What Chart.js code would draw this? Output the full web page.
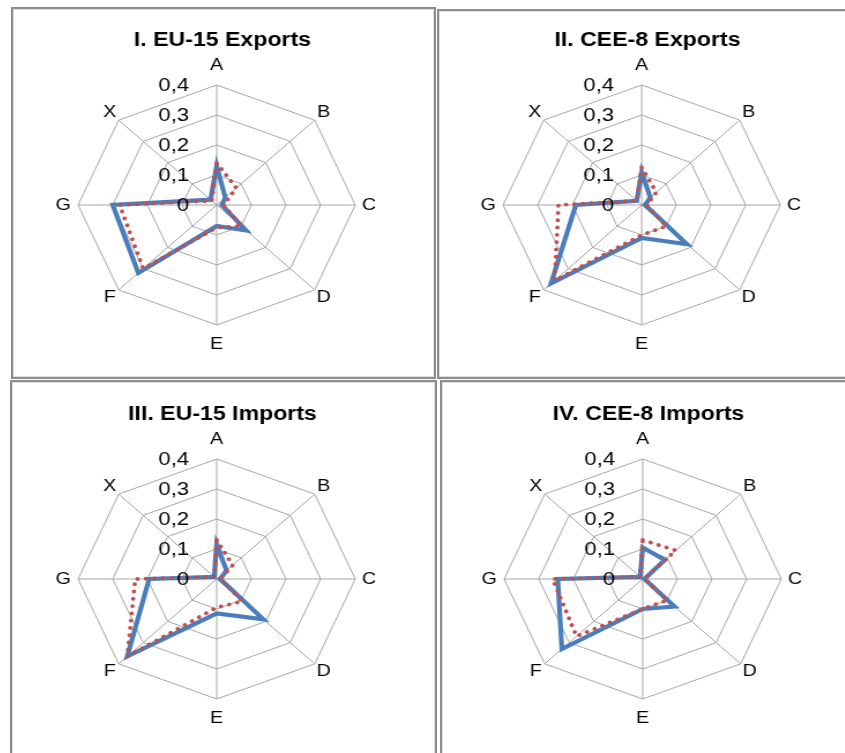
<!DOCTYPE html>
<html>
<head>
<meta charset="utf-8">
<script src="https://cdn.jsdelivr.net/npm/chart.js@4/dist/chart.umd.min.js"></script>
<style>
  html, body { margin: 0; padding: 0; background: #fff; }
  body { width: 845px; height: 753px; overflow: hidden; position: relative; }
  .panel { position: absolute; box-sizing: border-box; border: 2px solid #8c8c8c; box-shadow: inset 0 0 0 1px #dedede; }
  .wrap { position: absolute; transform-origin: 0 0; transform: scaleX(1.155); }
  canvas { display: block; }
</style>
</head>
<body>
<div class="panel" style="left:11px;top:7px;width:425px;height:372px"></div>
<div class="panel" style="left:437px;top:9px;width:420px;height:370px"></div>
<div class="panel" style="left:10px;top:380px;width:427px;height:400px"></div>
<div class="panel" style="left:440px;top:380px;width:420px;height:400px"></div>

<div class="wrap" style="left:3px;top:0px"><canvas id="c1" width="370" height="380"></canvas></div>
<div class="wrap" style="left:428px;top:0px"><canvas id="c2" width="370" height="380"></canvas></div>
<div class="wrap" style="left:3px;top:374px"><canvas id="c3" width="370" height="379"></canvas></div>
<div class="wrap" style="left:429px;top:374px"><canvas id="c4" width="370" height="379"></canvas></div>

<script>
// Sectors on the radar axes
const axisLabels = ['A', 'B', 'C', 'D', 'E', 'F', 'G', 'X'];
const tickValues = [0, 0.1, 0.2, 0.3, 0.4];
const tickLabels = ['0', '0,1', '0,2', '0,3', '0,4'];

const titles = ['I. EU-15 Exports', 'II. CEE-8 Exports', 'III. EU-15 Imports', 'IV. CEE-8 Imports'];

// Shares by sector: solid series and dotted series
const eu15ExportsSolid  = [0.13,  0.035, 0.015, 0.12,  0.07,  0.32,  0.30,  0.025];
const eu15ExportsDotted = [0.14,  0.08,  0.02,  0.10,  0.075, 0.30,  0.28,  0.02];
const cee8ExportsSolid  = [0.11,  0.035, 0.01,  0.185, 0.11,  0.37,  0.19,  0.02];
const cee8ExportsDotted = [0.125, 0.06,  0.015, 0.10,  0.10,  0.355, 0.24,  0.02];
const eu15ImportsSolid  = [0.115, 0.04,  0.01,  0.19,  0.115, 0.365, 0.195, 0.01];
const eu15ImportsDotted = [0.13,  0.065, 0.01,  0.105, 0.095, 0.365, 0.235, 0.01];
const cee8ImportsSolid  = [0.105, 0.09,  0.005, 0.13,  0.10,  0.33,  0.245, 0.01];
const cee8ImportsDotted = [0.13,  0.135, 0.005, 0.10,  0.10,  0.27,  0.26,  0.01];

const TEXT_FONT = '"Liberation Sans", Arial, sans-serif';

// Extra distance of each sector label beyond the outer ring
const labelGap = [20, 11, 12, 11, 19, 11, 13, 11];

// Draws the ring values, the sector names and the title on top of the series
const radarText = {
  id: 'radarText',
  afterDatasetsDraw(chart) {
    const s = chart.scales.r;
    const ctx = chart.ctx;
    ctx.save();
    ctx.fillStyle = '#000';
    ctx.textBaseline = 'middle';
    ctx.font = '19px ' + TEXT_FONT;
    ctx.textAlign = 'right';
    s.ticks.forEach((t) => {
      const d = s.getDistanceFromCenterForValue(t.value);
      ctx.fillText(t.label, s.xCenter - 24, s.yCenter - d + 1);
    });
    ctx.font = '17px ' + TEXT_FONT;
    ctx.textAlign = 'center';
    axisLabels.forEach((lab, i) => {
      const p = s.getPointPosition(i, s.drawingArea + labelGap[i]);
      ctx.fillText(lab, p.x, p.y);
    });
    ctx.font = 'bold 20px ' + TEXT_FONT;
    ctx.fillText(chart.options.plugins.radarText.title, s.xCenter + 5, 40);
    ctx.restore();
  }
};

function makeRadar(id, title, solid, dotted, bottomPad) {
  new Chart(document.getElementById(id), {
    type: 'radar',
    data: {
      labels: axisLabels,
      datasets: [
        {
          label: 'Series 2',
          data: dotted,
          borderColor: '#c0504d',
          borderWidth: 3.8,
          borderDash: [0.1, 7.2],
          borderCapStyle: 'round',
          fill: false,
          pointRadius: 0,
          order: 1
        },
        {
          label: 'Series 1',
          data: solid,
          borderColor: '#4a7ebb',
          borderWidth: 4.2,
          borderJoinStyle: 'miter',
          fill: false,
          pointRadius: 0,
          order: 2
        }
      ]
    },
    options: {
      responsive: false,
      animation: false,
      events: [],
      layout: { padding: { top: 85, left: 65, right: 65, bottom: bottomPad } },
      plugins: {
        legend: { display: false },
        tooltip: { enabled: false },
        title: { display: false },
        radarText: { title: title }
      },
      scales: {
        r: {
          min: 0,
          max: 0.4,
          ticks: {
            display: false,
            stepSize: 0.1,
            callback: (v) => {
              const i = tickValues.findIndex((t) => Math.abs(t - v) < 1e-9);
              return i >= 0 ? tickLabels[i] : '';
            }
          },
          pointLabels: { display: false },
          grid: { color: '#a6a6a6', lineWidth: 1 },
          angleLines: { color: '#a6a6a6', lineWidth: 1 }
        }
      }
    },
    plugins: [radarText]
  });
}

makeRadar('c1', titles[0], eu15ExportsSolid, eu15ExportsDotted, 55);
makeRadar('c2', titles[1], cee8ExportsSolid, cee8ExportsDotted, 55);
makeRadar('c3', titles[2], eu15ImportsSolid, eu15ImportsDotted, 54);
makeRadar('c4', titles[3], cee8ImportsSolid, cee8ImportsDotted, 54);
</script>
</body>
</html>
